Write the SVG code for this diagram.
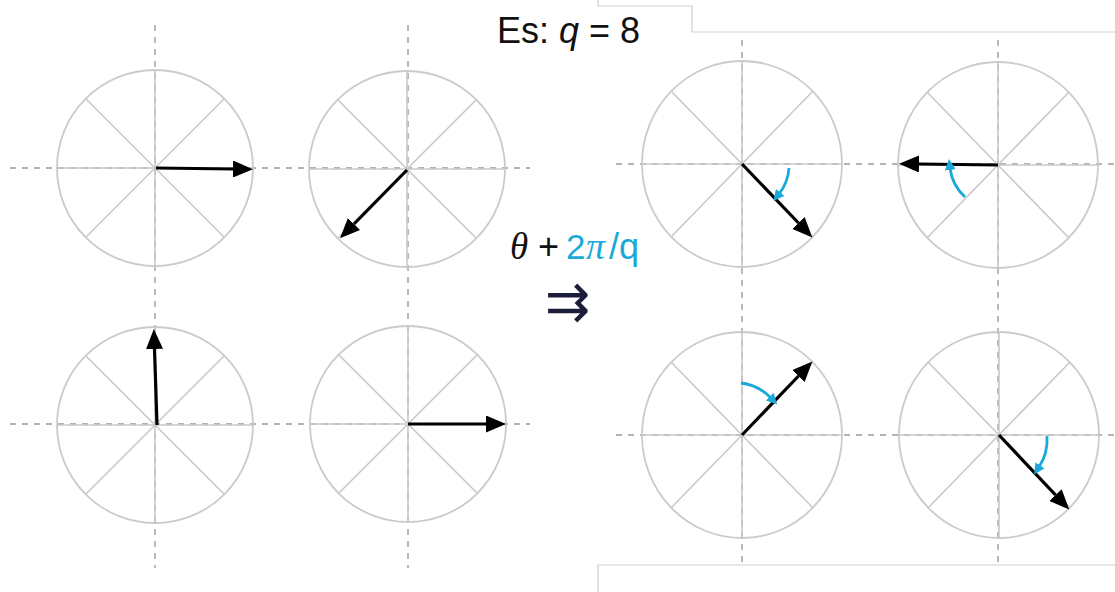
<svg xmlns="http://www.w3.org/2000/svg" width="1115" height="592" viewBox="0 0 1115 592">
<style>
.circ{fill:none;stroke:#c9cccc;stroke-width:1.8}
.spoke{stroke:#c9c9c9;stroke-width:1.6}
.dash{stroke:#b3b3b3;stroke-width:1.8;stroke-dasharray:6 6}
.vec{stroke:#000;stroke-width:3.2;fill:none;marker-end:url(#head)}
.rot{stroke:#1ba9d9;stroke-width:2.8;fill:none;marker-end:url(#bhead)}
.frame{fill:none;stroke:#cfcfcf;stroke-width:1.2}
.t{font-family:"Liberation Sans",Arial,sans-serif}
.s{font-family:"Liberation Sans",Arial,sans-serif}
.m{font-family:"Liberation Serif","Times New Roman",serif;font-style:italic}
.b{fill:#1ba9d9}
</style>
<defs>
<marker id="head" markerUnits="userSpaceOnUse" markerWidth="21" markerHeight="17" refX="0" refY="8.5" orient="auto" viewBox="0 0 21 17">
<path d="M0,0 L20,8.5 L0,17 Z" fill="#000"/>
</marker>
<marker id="bhead" markerUnits="userSpaceOnUse" markerWidth="11" markerHeight="11" refX="2" refY="5.5" orient="auto" viewBox="0 0 11 11">
<path d="M0,0 L11,5.5 L0,11 Z" fill="#1ba9d9"/>
</marker>
</defs>
<rect width="1115" height="592" fill="#fff"/>
<path class="frame" d="M598,0 V6 H692 V32 H1115"/>
<path class="frame" d="M1115,565 H598 V592"/>
<g id="axes">
<line class="dash" x1="10" y1="168" x2="530" y2="168"/>
<line class="dash" x1="10" y1="424" x2="530" y2="424"/>
<line class="dash" x1="155" y1="25" x2="155" y2="568"/>
<line class="dash" x1="408" y1="25" x2="408" y2="568"/>
<line class="dash" x1="616" y1="164" x2="1115" y2="164"/>
<line class="dash" x1="616" y1="435" x2="1115" y2="435"/>
<line class="dash" x1="742" y1="40" x2="742" y2="562"/>
<line class="dash" x1="998" y1="40" x2="998" y2="562"/>
</g>
<g id="c1">
<circle class="circ" cx="155" cy="168" r="98"/>
<path class="spoke" d="M57,168 H253 M155,70 V266 M86,99 L224,237 M224,99 L86,237"/>
</g>
<g id="c2">
<circle class="circ" cx="407" cy="169" r="98"/>
<path class="spoke" d="M309,169 H505 M407,71 V267 M338,100 L476,238 M476,100 L338,238"/>
</g>
<g id="c3">
<circle class="circ" cx="155" cy="425" r="98"/>
<path class="spoke" d="M57,425 H253 M155,327 V523 M86,356 L224,494 M224,356 L86,494"/>
</g>
<g id="c4">
<circle class="circ" cx="408" cy="424" r="98"/>
<path class="spoke" d="M310,424 H506 M408,326 V522 M339,355 L477,493 M477,355 L339,493"/>
</g>
<g id="c5">
<ellipse class="circ" cx="742" cy="164" rx="100" ry="103"/>
<path class="spoke" d="M642,164 H842 M742,61 V267 M671,91 L813,237 M813,91 L671,237"/>
</g>
<g id="c6">
<ellipse class="circ" cx="998" cy="165" rx="100" ry="103"/>
<path class="spoke" d="M898,165 H1098 M998,62 V268 M927,92 L1069,238 M1069,92 L927,238"/>
</g>
<g id="c7">
<ellipse class="circ" cx="742" cy="435" rx="100" ry="103"/>
<path class="spoke" d="M642,435 H842 M742,332 V538 M671,362 L813,508 M813,362 L671,508"/>
</g>
<g id="c8">
<ellipse class="circ" cx="999" cy="435" rx="100" ry="103"/>
<path class="spoke" d="M899,435 H1099 M999,332 V538 M928,362 L1070,508 M1070,362 L928,508"/>
</g>
<g id="vectors">
<line class="vec" x1="156" y1="168" x2="233" y2="169"/>
<line class="vec" x1="407" y1="170" x2="354" y2="224"/>
<line class="vec" x1="157" y1="425" x2="154.5" y2="349"/>
<line class="vec" x1="408" y1="424" x2="486" y2="424"/>
<line class="vec" x1="742" y1="164" x2="798.5" y2="223"/>
<line class="vec" x1="998" y1="165" x2="919" y2="164"/>
<line class="vec" x1="742" y1="435" x2="798.5" y2="376"/>
<line class="vec" x1="999" y1="435" x2="1055.5" y2="495"/>
</g>
<g id="rotations">
<path class="rot" d="M789,168 A47,47 0 0 1 779,194"/>
<path class="rot" d="M965,197 A47,47 0 0 1 950,168"/>
<path class="rot" d="M741,383 A50,50 0 0 1 771,398"/>
<path class="rot" d="M1047,436 A50,50 0 0 1 1039,467"/>
</g>
<g id="title">
<text class="t" x="497" y="43" font-size="36" fill="#111">Es: <tspan font-style="italic">q</tspan> = 8</text>
</g>
<g id="formula">
<text x="510" y="259" font-size="37" fill="#111" class="m">θ</text>
<text x="538" y="259" font-size="36" fill="#111" class="s">+</text>
<text x="566" y="259" font-size="35" class="s b">2</text>
<text x="586" y="259" font-size="38" class="m b">π</text>
<text x="609" y="259" font-size="36" class="s b">/q</text>
<text x="545" y="320" font-size="54" font-family="'DejaVu Sans',sans-serif" fill="#1c1c3c">⇉</text>
</g>
</svg>
